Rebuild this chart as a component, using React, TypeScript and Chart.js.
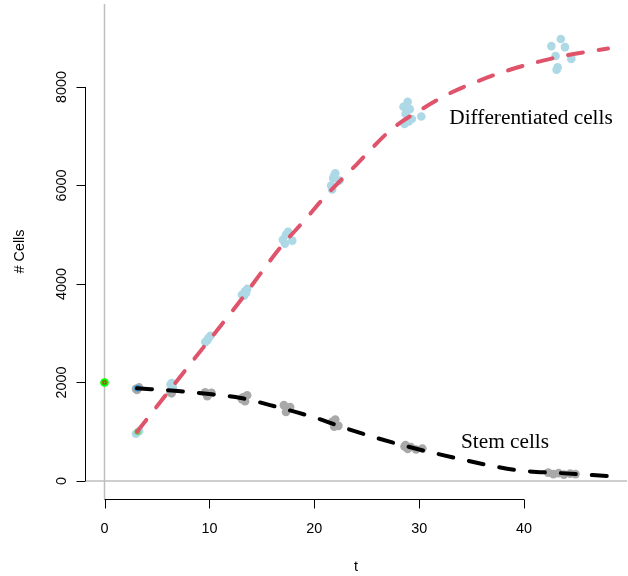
import { useEffect, useRef } from "react";
import { Chart, registerables } from "chart.js";

Chart.register(...registerables);

// Model curves (time, cells)
const diffCurveT = [3.1, 7.8, 13, 16.8, 19.1, 21, 24, 27.3, 30.1, 32.9, 35.5, 38.5, 41.7, 44, 48];
const diffCurveV = [1000, 2275, 3675, 4750, 5300, 5770, 6420, 7130, 7530, 7870, 8110, 8340, 8530, 8640, 8780];
const stemCurveT = [3.1, 7, 10, 13, 16.5, 20, 23, 26, 30, 33.5, 36.5, 39.5, 43.5, 48];
const stemCurveV = [1882, 1827, 1766, 1685, 1500, 1290, 1070, 870, 640, 465, 325, 215, 160, 100];

// Observations: differentiated cells
const diffObsT = [3.0, 3.3, 6.3, 6.5, 6.4, 9.6, 9.9, 10.1, 9.8, 13.1, 13.4, 13.6, 13.3, 13.5, 17.0, 17.3, 17.5, 17.2, 17.9, 21.6, 21.8, 22.0, 21.7, 22.4, 21.9, 28.5, 28.9, 28.7, 29.0, 29.3, 28.6, 30.2, 29.1, 42.6, 43.5, 43.9, 43.0, 44.5, 43.2, 43.1];
const diffObsV = [960, 1010, 1960, 1910, 1990, 2820, 2900, 2950, 2860, 3780, 3850, 3900, 3760, 3820, 4900, 5000, 5060, 4820, 4880, 6000, 6150, 6250, 5920, 6100, 6200, 7600, 7700, 7450, 7300, 7350, 7250, 7400, 7550, 8830, 8975, 8810, 8630, 8570, 8400, 8350];

// Observations: stem cells
const stemObsT = [3.0, 3.3, 3.1, 6.3, 6.5, 6.4, 9.6, 9.9, 10.2, 9.8, 13.2, 13.6, 13.4, 13.1, 17.1, 17.4, 17.7, 17.3, 21.7, 22.0, 22.3, 21.9, 28.6, 28.9, 29.2, 29.7, 28.7, 30.3, 42.3, 42.8, 43.3, 43.8, 44.4, 44.9];
const stemObsV = [1870, 1900, 1850, 1800, 1840, 1780, 1800, 1760, 1790, 1720, 1700, 1740, 1620, 1660, 1540, 1440, 1500, 1400, 1200, 1250, 1120, 1100, 700, 650, 690, 640, 730, 660, 170, 140, 160, 130, 150, 140];

// Initial values
const startPoint = { t: 0, v: 2000 };
const stemInit = { t: 3.15, v: 1882 };
const diffInit = { t: 3.15, v: 1000 };

// Axes
const xTicks = [0, 10, 20, 30, 40];
const yTicks = [0, 2000, 4000, 6000, 8000];
const xLabel = "t";
const yLabel = "# Cells";

// Curve annotations (data coordinates of text baseline centre)
const curveLabels = [
  { text: "Differentiated cells", t: 40.66, v: 7243 },
  { text: "Stem cells", t: 38.18, v: 664 },
];

const pts = (ts: number[], vs: number[]) => ts.map((t, i) => ({ x: t, y: vs[i] }));

const SANS = "'Liberation Sans', Arial, sans-serif";
const SERIF = "'Liberation Serif', 'Times New Roman', serif";

const rPlugin = {
  id: "rStyle",
  beforeDatasetsDraw(chart: any) {
    const { ctx, chartArea: a, scales } = chart;
    const x = scales.x, y = scales.y;
    const x0 = x.getPixelForValue(0);
    const y0 = y.getPixelForValue(0);
    ctx.save();
    ctx.strokeStyle = "#BEBEBE";
    ctx.lineWidth = 1.5;
    ctx.beginPath();
    ctx.moveTo(x0, a.top);
    ctx.lineTo(x0, a.bottom);
    ctx.moveTo(a.left, y0);
    ctx.lineTo(a.right, y0);
    ctx.stroke();
    ctx.restore();
  },
  afterDraw(chart: any) {
    const { ctx, chartArea: a, scales } = chart;
    const x = scales.x, y = scales.y;
    const tickLen = 9;
    ctx.save();
    ctx.strokeStyle = "#000";
    ctx.fillStyle = "#000";
    ctx.lineWidth = 1;
    // x axis
    const xb = Math.round(a.bottom) + 0.5;
    ctx.beginPath();
    ctx.moveTo(x.getPixelForValue(xTicks[0]), xb);
    ctx.lineTo(x.getPixelForValue(xTicks[xTicks.length - 1]), xb);
    xTicks.forEach((t) => {
      const px = Math.round(x.getPixelForValue(t)) + 0.5;
      ctx.moveTo(px, xb);
      ctx.lineTo(px, xb + tickLen);
    });
    // y axis
    const yl = Math.round(a.left) + 0.5;
    ctx.moveTo(yl, y.getPixelForValue(yTicks[0]));
    ctx.lineTo(yl, y.getPixelForValue(yTicks[yTicks.length - 1]));
    yTicks.forEach((v) => {
      const py = Math.round(y.getPixelForValue(v)) + 0.5;
      ctx.moveTo(yl, py);
      ctx.lineTo(yl - tickLen, py);
    });
    ctx.stroke();

    ctx.font = `14.4px ${SANS}`;
    ctx.textAlign = "center";
    ctx.textBaseline = "middle";
    xTicks.forEach((t) => {
      ctx.fillText(String(t), x.getPixelForValue(t), xb + 30);
    });
    yTicks.forEach((v) => {
      ctx.save();
      ctx.translate(yl - 23, y.getPixelForValue(v));
      ctx.rotate(-Math.PI / 2);
      ctx.fillText(String(v), 0, 0);
      ctx.restore();
    });
    // axis titles
    ctx.fillText(xLabel, (a.left + a.right) / 2, 567);
    ctx.save();
    ctx.translate(20, (a.top + a.bottom) / 2);
    ctx.rotate(-Math.PI / 2);
    ctx.fillText(yLabel, 0, 0);
    ctx.restore();

    // curve labels
    ctx.font = `21.3px ${SERIF}`;
    ctx.textBaseline = "alphabetic";
    curveLabels.forEach((l) => {
      ctx.fillText(l.text, x.getPixelForValue(l.t), y.getPixelForValue(l.v));
    });
    ctx.restore();
  },
};

export default function App() {
  const ref = useRef<HTMLCanvasElement>(null);
  useEffect(() => {
    document.body.style.margin = "0";
    const canvas = ref.current;
    if (!canvas) return;
    const chart = new Chart(canvas, {
      type: "scatter",
      data: {
        datasets: [
          {
            type: "line",
            data: pts(diffCurveT, diffCurveV),
            borderColor: "#DF536B",
            borderWidth: 4,
            borderDash: [15, 16],
            borderCapStyle: "round",
            pointRadius: 0,
            cubicInterpolationMode: "monotone",
            fill: false,
          } as any,
          {
            type: "line",
            data: pts(stemCurveT, stemCurveV),
            borderColor: "#000000",
            borderWidth: 4,
            borderDash: [15, 16],
            borderCapStyle: "round",
            pointRadius: 0,
            cubicInterpolationMode: "monotone",
            fill: false,
          } as any,
          {
            data: [{ x: startPoint.t, y: startPoint.v }],
            pointStyle: "rect",
            pointRadius: 2.1,
            backgroundColor: "rgba(0,0,0,0)",
            borderColor: "#FF0000",
            borderWidth: 1,
          },
          {
            data: [{ x: startPoint.t, y: startPoint.v }],
            pointRadius: 4.3,
            backgroundColor: "#00FF00",
            borderWidth: 0,
          },
          {
            data: [{ x: stemInit.t, y: stemInit.v }],
            pointRadius: 3.3,
            backgroundColor: "#2297E6",
            borderWidth: 0,
          },
          {
            data: [{ x: diffInit.t, y: diffInit.v }],
            pointRadius: 3.2,
            backgroundColor: "#61D04F",
            borderWidth: 0,
          },
          {
            data: pts(diffObsT, diffObsV),
            pointRadius: 4.3,
            backgroundColor: "#ADD8E6",
            borderWidth: 0,
          },
          {
            data: pts(stemObsT, stemObsV),
            pointRadius: 4.3,
            backgroundColor: "#A9A9A9",
            borderWidth: 0,
          },
        ],
      },
      options: {
        animation: false,
        responsive: false,
        events: [],
        layout: { autoPadding: false, padding: { left: 85, right: 1, top: 4, bottom: 77 } },
        plugins: { legend: { display: false }, tooltip: { enabled: false } },
        scales: {
          x: { type: "linear", min: -1.859, max: 49.81, display: false },
          y: { type: "linear", min: -365.5, max: 9685, display: false },
        },
      },
      plugins: [rPlugin],
    });
    return () => chart.destroy();
  }, []);
  return (
    <canvas ref={ref} width={628} height={576} style={{ display: "block", width: 628, height: 576 }} />
  );
}
